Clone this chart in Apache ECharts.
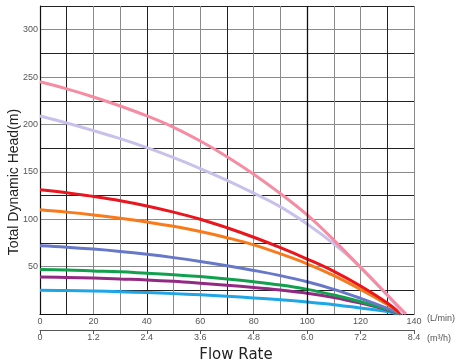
<!DOCTYPE html>
<html>
<head>
<meta charset="utf-8">
<script src="https://cdn.jsdelivr.net/npm/echarts@6/dist/echarts.min.js"></script>
<style>html,body{margin:0;padding:0;background:#fff}#c{width:464px;height:361px}</style>
</head>
<body>
<div id="c"></div>
<script>
// Flow points (L/min) at which head values were read
const flowPts = [0, 10, 20, 30, 40, 50, 60, 70, 80, 90, 100, 110, 120, 130];
// Head (m) per curve, plus the shut-off flow where head reaches 0
const pinkHead     = [245, 237.5, 229, 219.5, 209, 197, 182.5, 166, 147.5, 127, 104.5, 78, 49, 20];
const pinkEnd      = 137;
const lavenderHead = [209, 201.5, 193.5, 185, 175.5, 165, 153.5, 141, 127.5, 113, 95, 74, 49.5, 20];
const lavenderEnd  = 136;
const redHead      = [131, 128, 124, 119.5, 114, 107.5, 100, 91, 81, 70, 58, 45, 29.5, 11.5];
const redEnd       = 135;
const orangeHead   = [110, 107.5, 104.5, 101, 97, 92.5, 87, 80.5, 73, 63.5, 53, 40.5, 26, 10];
const orangeEnd    = 135;
const blueHead     = [72, 70.5, 68.5, 66, 63, 59.5, 55.5, 51, 46, 40.5, 34, 26, 16.5, 6];
const blueEnd      = 135;
const greenHead    = [47, 46.5, 45.5, 44.5, 43, 41.5, 39.5, 37, 34, 30.5, 26, 20, 13, 5];
const greenEnd     = 135;
const purpleHead   = [39, 38.6, 38, 37, 36, 34.5, 32.5, 30.3, 28, 25.3, 22, 17.5, 11.5, 4.5];
const purpleEnd    = 135;
const cyanHead     = [25, 24.7, 24.2, 23.5, 22.6, 21.5, 20.2, 18.7, 17, 15, 12.6, 9.8, 6.3, 2.5];
const cyanEnd      = 134;

// Tick labels
const lminTicks = [0, 20, 40, 60, 80, 100, 120, 140];
const m3hTicks  = ['0', '1.2', '2.4', '3.6', '4.8', '6.0', '7.2', '8.4'];
const headTicks = [50, 100, 150, 200, 250, 300];

function mk(head, end) {
  const d = flowPts.map((f, i) => [f, head[i]]);
  d.push([end, 0]);
  return d;
}

const curves = [
  {name: 'cyan', data: mk(cyanHead, cyanEnd), color: '#1fa6e6'},
  {name: 'purple', data: mk(purpleHead, purpleEnd), color: '#922a84'},
  {name: 'green', data: mk(greenHead, greenEnd), color: '#13a04e'},
  {name: 'blue', data: mk(blueHead, blueEnd), color: '#6878c8'},
  {name: 'orange', data: mk(orangeHead, orangeEnd), color: '#f97a1c'},
  {name: 'red', data: mk(redHead, redEnd), color: '#e8161e'},
  {name: 'lavender', data: mk(lavenderHead, lavenderEnd), color: '#c9c1e9'},
  {name: 'pink', data: mk(pinkHead, pinkEnd), color: '#f58ca2'}
];

const chart = echarts.init(document.getElementById('c'), null, {renderer: 'canvas'});
const FONT = 'Liberation Sans, Arial, sans-serif';
const labelStyle = {color: '#555', fontSize: 9, fontFamily: FONT};

chart.setOption({
  animation: false,
  backgroundColor: '#fff',
  grid: {left: 40, right: 50, top: 6, bottom: 47, containLabel: false, outerBoundsMode: 'none'},
  xAxis: [
    {
      type: 'value', min: 0, max: 140, interval: 10, position: 'bottom',
      axisLine: {show: true, lineStyle: {color: '#111', width: 1.2}},
      axisTick: {show: false},
      axisLabel: Object.assign({}, labelStyle, {
        margin: 3,
        formatter: v => lminTicks.includes(v) ? String(v) : ''
      }),
      splitLine: {show: true, lineStyle: {color: ['#8a8a8a', '#222', '#8a8a8a'], width: 1}}
    },
    {
      type: 'value', min: 0, max: 140, interval: 20, position: 'bottom', offset: 16,
      axisLine: {show: true, onZero: false, lineStyle: {color: '#555', width: 1}},
      axisTick: {show: true, length: 4, lineStyle: {color: '#555'}},
      axisLabel: Object.assign({}, labelStyle, {
        margin: 3,
        formatter: v => m3hTicks[Math.round(v / 20)]
      }),
      splitLine: {show: false}
    }
  ],
  yAxis: {
    type: 'value', min: 0, max: 325, interval: 25,
    axisLine: {show: true, lineStyle: {color: '#111', width: 1.2}},
    axisTick: {show: false},
    axisLabel: Object.assign({}, labelStyle, {
      margin: 2,
      formatter: v => headTicks.includes(v) ? String(v) : ''
    }),
    splitLine: {show: true, lineStyle: {color: ['#8a8a8a', '#222'], width: 1}}
  },
  graphic: [
    {type: 'text', x: 14, y: 182, rotation: Math.PI / 2,
      style: {text: 'Total Dynamic Head(m)', fill: '#222', fontSize: 14, fontFamily: FONT, align: 'center', verticalAlign: 'middle'}},
    {type: 'text', left: 427, top: 314, style: {text: '(L/min)', fill: '#555', fontSize: 9, fontFamily: FONT}},
    {type: 'text', left: 427, top: 334, style: {text: '(m³/h)', fill: '#555', fontSize: 9, fontFamily: FONT}},
    {type: 'text', x: 236, y: 355,
      style: {text: 'Flow Rate', fill: '#222', fontSize: 15, fontFamily: 'DejaVu Sans, sans-serif', align: 'center', verticalAlign: 'middle'}}
  ],
  series: curves.map(c => ({
    type: 'line', name: c.name, data: c.data, smooth: 0.4, symbol: 'none',
    lineStyle: {color: c.color, width: 3}, xAxisIndex: 0
  })).concat([{
    type: 'line', data: [], xAxisIndex: 0,
    markLine: {silent: true, symbol: 'none', label: {show: false},
      lineStyle: {color: '#111', width: 1.3, type: 'solid'}, data: [{xAxis: 100}]}
  }])
});
</script>
</body>
</html>
